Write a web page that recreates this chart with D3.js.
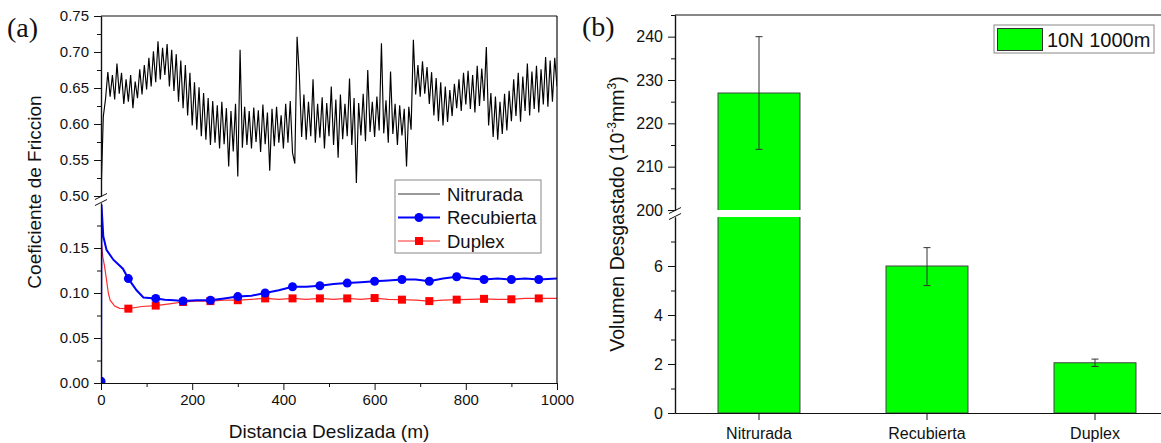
<!DOCTYPE html>
<html>
<head>
<meta charset="utf-8">
<script src="https://cdn.jsdelivr.net/npm/d3@7"></script>
<style>
body{margin:0;background:#fff}
text{font-family:Arial,"Liberation Sans",sans-serif}
text.serif{font-family:"Liberation Serif","Times New Roman",serif}
</style>
</head>
<body>
<div id="chart"></div>
<script>

// -----------------------------
// DATA
// -----------------------------

// (a) Nitrurada, one value every 5 m (0 .. 1000 m)
const nitStep = 5
const nitCoef = [
0.50,0.61,0.635,0.672,0.638,0.668,0.634,0.684,0.642,0.671,
0.628,0.662,0.631,0.668,0.622,0.659,0.636,0.676,0.641,0.682,
0.648,0.692,0.652,0.701,0.658,0.715,0.662,0.706,0.668,0.711,
0.652,0.703,0.646,0.697,0.631,0.688,0.622,0.682,0.612,0.671,
0.598,0.658,0.592,0.651,0.583,0.643,0.578,0.636,0.571,0.632,
0.574,0.626,0.566,0.631,0.572,0.622,0.541,0.618,0.562,0.628,
0.527,0.703,0.567,0.624,0.571,0.618,0.566,0.623,0.575,0.619,
0.561,0.627,0.572,0.616,0.535,0.621,0.569,0.624,0.574,0.612,
0.566,0.628,0.574,0.632,0.560,0.545,0.721,0.667,0.582,0.641,
0.578,0.631,0.583,0.662,0.574,0.628,0.581,0.637,0.566,0.629,
0.583,0.652,0.571,0.634,0.553,0.641,0.579,0.628,0.583,0.663,
0.571,0.636,0.518,0.629,0.584,0.642,0.576,0.675,0.589,0.631,
0.582,0.638,0.591,0.712,0.587,0.633,0.574,0.673,0.586,0.628,
0.571,0.626,0.584,0.621,0.541,0.624,0.592,0.717,0.641,0.682,
0.638,0.687,0.642,0.679,0.628,0.672,0.612,0.664,0.604,0.658,
0.598,0.652,0.603,0.647,0.611,0.656,0.622,0.662,0.618,0.671,
0.627,0.674,0.621,0.668,0.616,0.681,0.625,0.677,0.632,0.707,
0.598,0.643,0.582,0.638,0.578,0.631,0.586,0.642,0.591,0.646,
0.604,0.662,0.611,0.671,0.603,0.666,0.618,0.684,0.612,0.673,
0.621,0.681,0.616,0.676,0.627,0.693,0.624,0.688,0.631,0.692,
0.652
]

// (a) Recubierta
const recDist = [0,1,5,12,27,48,60,78,93,120,140,160,180,210,240,270,300,330,360,390,420,450,480,510,540,570,600,630,660,690,720,750,780,810,840,870,900,930,960,1000]
const recCoef = [0.002,0.198,0.163,0.148,0.137,0.127,0.116,0.103,0.095,0.094,0.0925,0.092,0.091,0.092,0.092,0.094,0.096,0.097,0.100,0.103,0.107,0.107,0.108,0.110,0.111,0.112,0.113,0.114,0.115,0.115,0.113,0.116,0.118,0.116,0.115,0.116,0.115,0.116,0.115,0.116]

// (a) Duplex
const dupDist = [0,4,8,12,16,20,30,41,60,90,120,150,180,210,240,270,300,330,360,390,420,450,480,510,540,570,600,630,660,690,720,750,780,810,840,870,900,930,960,1000]
const dupCoef = [0.159,0.140,0.129,0.115,0.100,0.092,0.0855,0.083,0.0826,0.085,0.086,0.088,0.090,0.091,0.091,0.092,0.092,0.093,0.094,0.093,0.094,0.093,0.094,0.093,0.094,0.093,0.0944,0.093,0.0926,0.092,0.091,0.092,0.0926,0.093,0.0935,0.093,0.093,0.094,0.094,0.094]

const markerStep = 60

const xTicksA = [0,200,400,600,800,1000]
const yTicksTopA = [0.50,0.55,0.60,0.65,0.70,0.75]
const yTicksBotA = [0.00,0.05,0.10,0.15]

// (b) wear volume
const cats = ["Nitrurada","Recubierta","Duplex"]
const wear = [227,6.0,2.05]
const wearLo = [214,5.2,1.9]
const wearHi = [240,6.75,2.2]

const yTicksTopB = [200,210,220,230,240]
const yTicksBotB = [0,2,4,6]


// -----------------------------
// SVG
// -----------------------------

const width = 1161
const height = 443

const svg = d3.select("#chart")
.append("svg")
.attr("width",width)
.attr("height",height)

function styleAxis(g,size){
g.attr("font-size",size)
g.selectAll("path").attr("stroke","#111").attr("stroke-width",1.2)
g.selectAll("line").attr("stroke","#111").attr("stroke-width",1)
g.selectAll("text").attr("fill","#111")
}

function breakMark(x,yc){
[-3,3].forEach(d=>{
svg.append("line")
.attr("x1",x-6).attr("y1",yc+d+3)
.attr("x2",x+6).attr("y2",yc+d-3)
.attr("stroke","#111")
.attr("stroke-width",1)
})
}


// -----------------------------
// PANEL (a)
// -----------------------------

const xA = d3.scaleLinear().domain([0,1000]).range([101,557])
const yTopA = d3.scaleLinear().domain([0.5,0.75]).range([196,16])
const yBotA = d3.scaleLinear().domain([0,0.2]).range([383,203])

const defs = svg.append("defs")
defs.append("clipPath").attr("id","clipTopA")
.append("rect").attr("x",101).attr("y",16).attr("width",456).attr("height",180)
defs.append("clipPath").attr("id","clipBotA")
.append("rect").attr("x",101).attr("y",203).attr("width",456).attr("height",180)

// NITRURADA

const nitData = nitCoef.map((v,i)=>({x:i*nitStep,y:v}))

svg.append("g").attr("clip-path","url(#clipTopA)")
.append("path")
.datum(nitData)
.attr("fill","none")
.attr("stroke","#000")
.attr("stroke-width",1.15)
.attr("d",d3.line().x(d=>xA(d.x)).y(d=>yTopA(d.y)))

const botA = svg.append("g").attr("clip-path","url(#clipBotA)")

// DUPLEX

const dupData = dupDist.map((d,i)=>({x:d,y:dupCoef[i]}))

botA.append("path")
.datum(dupData)
.attr("fill","none")
.attr("stroke","#ff2a2a")
.attr("stroke-width",1.2)
.attr("d",d3.line().x(d=>xA(d.x)).y(d=>yBotA(d.y)))

botA.selectAll("rect.dup")
.data(dupData.filter(d=>d.x>0 && d.x%markerStep===0 && d.x<1000))
.enter()
.append("rect")
.attr("class","dup")
.attr("x",d=>xA(d.x)-4)
.attr("y",d=>yBotA(d.y)-4)
.attr("width",8)
.attr("height",8)
.attr("fill","#ff0000")

// RECUBIERTA

const recData = recDist.map((d,i)=>({x:d,y:recCoef[i]}))

botA.append("path")
.datum(recData)
.attr("fill","none")
.attr("stroke","#0000ff")
.attr("stroke-width",2)
.attr("d",d3.line().x(d=>xA(d.x)).y(d=>yBotA(d.y)))

botA.selectAll("circle.rec")
.data(recData.filter(d=>d.x%markerStep===0 && d.x<1000))
.enter()
.append("circle")
.attr("class","rec")
.attr("cx",d=>xA(d.x))
.attr("cy",d=>yBotA(d.y))
.attr("r",4.5)
.attr("fill","#0000ff")

// AXES

svg.append("g")
.attr("transform","translate(0,383)")
.call(d3.axisBottom(xA).tickValues([100,300,500,700,900]).tickSize(4).tickSizeOuter(0).tickFormat(""))
.call(g=>styleAxis(g,15))

svg.append("g")
.attr("transform","translate(0,383)")
.call(d3.axisBottom(xA).tickValues(xTicksA).tickSize(7).tickSizeOuter(0).tickPadding(4).tickFormat(d3.format("d")))
.call(g=>styleAxis(g,15))

svg.append("g")
.attr("transform","translate(101,0)")
.call(d3.axisLeft(yTopA).tickValues([0.525,0.575,0.625,0.675,0.725]).tickSize(4).tickSizeOuter(0).tickFormat(""))
.call(g=>styleAxis(g,15))

svg.append("g")
.attr("transform","translate(101,0)")
.call(d3.axisLeft(yTopA).tickValues(yTicksTopA).tickSize(7).tickSizeOuter(0).tickPadding(5).tickFormat(d3.format(".2f")))
.call(g=>styleAxis(g,15))

svg.append("g")
.attr("transform","translate(101,0)")
.call(d3.axisLeft(yBotA).tickValues([0.025,0.075,0.125,0.175]).tickSize(4).tickSizeOuter(0).tickFormat(""))
.call(g=>styleAxis(g,15))

svg.append("g")
.attr("transform","translate(101,0)")
.call(d3.axisLeft(yBotA).tickValues(yTicksBotA).tickSize(7).tickSizeOuter(0).tickPadding(5).tickFormat(d3.format(".2f")))
.call(g=>styleAxis(g,15))

// FRAME

svg.append("line").attr("x1",101).attr("x2",557).attr("y1",16).attr("y2",16)
.attr("stroke","#111").attr("stroke-width",1.2)
svg.append("line").attr("x1",557).attr("x2",557).attr("y1",16).attr("y2",383)
.attr("stroke","#111").attr("stroke-width",1.2)

breakMark(101,199.5)

// TITLES

svg.append("text")
.attr("x",329).attr("y",438)
.attr("text-anchor","middle")
.attr("font-size",19)
.attr("fill","#111")
.text("Distancia Deslizada (m)")

svg.append("text")
.attr("transform","translate(41,192) rotate(-90)")
.attr("text-anchor","middle")
.attr("font-size",19)
.attr("fill","#111")
.text("Coeficiente de Friccion")

svg.append("text")
.attr("class","serif")
.attr("x",7).attr("y",37)
.attr("font-size",28)
.attr("fill","#111")
.text("(a)")

// LEGEND

const legA = svg.append("g")

legA.append("rect")
.attr("x",395).attr("y",180).attr("width",146).attr("height",73)
.attr("fill","#fff").attr("stroke","#888").attr("stroke-width",1)

const legItems = [
{name:"Nitrurada",color:"#000",w:0.8,mark:null},
{name:"Recubierta",color:"#0000ff",w:2,mark:"circle"},
{name:"Duplex",color:"#ff2a2a",w:1.2,mark:"square"}
]

legItems.forEach((d,i)=>{
const yy = 194+i*23.5
legA.append("line")
.attr("x1",398).attr("x2",440).attr("y1",yy).attr("y2",yy)
.attr("stroke",d.color).attr("stroke-width",d.w)
if(d.mark==="circle"){
legA.append("circle").attr("cx",419).attr("cy",yy).attr("r",4.5).attr("fill","#0000ff")
}
if(d.mark==="square"){
legA.append("rect").attr("x",415).attr("y",yy-4).attr("width",8).attr("height",8).attr("fill","#ff0000")
}
legA.append("text")
.attr("x",447).attr("y",yy+6.5)
.attr("font-size",18.5)
.attr("fill","#111")
.text(d.name)
})


// -----------------------------
// PANEL (b)
// -----------------------------

const xB = d3.scaleBand()
.domain(cats)
.range([675,1179])
.paddingInner(0.512)
.paddingOuter(0.256)

const yTopB = d3.scaleLinear().domain([200,245]).range([210,15])
const yBotB = d3.scaleLinear().domain([0,8]).range([413,217])
const yB = v=> v>=200 ? yTopB(v) : yBotB(v)

defs.append("clipPath").attr("id","clipTopB")
.append("rect").attr("x",675).attr("y",15).attr("width",504).attr("height",195)
defs.append("clipPath").attr("id","clipBotB")
.append("rect").attr("x",675).attr("y",217).attr("width",504).attr("height",196)

const barData = cats.map((c,i)=>({cat:c,v:wear[i],lo:wearLo[i],hi:wearHi[i]}))

// BARS

svg.append("g").attr("clip-path","url(#clipTopB)")
.selectAll("rect")
.data(barData.filter(d=>d.v>200))
.enter()
.append("rect")
.attr("x",d=>xB(d.cat))
.attr("y",d=>yTopB(d.v))
.attr("width",xB.bandwidth())
.attr("height",d=>yTopB(0)-yTopB(d.v))
.attr("fill","#00ff00")
.attr("stroke","#444")
.attr("stroke-width",1)

svg.append("g").attr("clip-path","url(#clipBotB)")
.selectAll("rect")
.data(barData)
.enter()
.append("rect")
.attr("x",d=>xB(d.cat))
.attr("y",d=>yBotB(d.v))
.attr("width",xB.bandwidth())
.attr("height",d=>yBotB(0)-yBotB(d.v))
.attr("fill","#00ff00")
.attr("stroke","#444")
.attr("stroke-width",1)

// ERROR BARS

const err = svg.append("g")
.attr("stroke","#333")
.attr("stroke-width",1)

barData.forEach(d=>{
const cx = xB(d.cat)+xB.bandwidth()/2
err.append("line").attr("x1",cx).attr("x2",cx).attr("y1",yB(d.lo)).attr("y2",yB(d.hi))
err.append("line").attr("x1",cx-3.5).attr("x2",cx+3.5).attr("y1",yB(d.lo)).attr("y2",yB(d.lo))
err.append("line").attr("x1",cx-3.5).attr("x2",cx+3.5).attr("y1",yB(d.hi)).attr("y2",yB(d.hi))
})

// AXES

svg.append("g")
.attr("transform","translate(0,413)")
.call(d3.axisBottom(xB).tickSize(7).tickSizeOuter(0).tickPadding(8))
.call(g=>styleAxis(g,16))

svg.append("g")
.attr("transform","translate(675,0)")
.call(d3.axisLeft(yTopB).tickValues([205,215,225,235,245]).tickSize(4).tickSizeOuter(0).tickFormat(""))
.call(g=>styleAxis(g,16))

svg.append("g")
.attr("transform","translate(675,0)")
.call(d3.axisLeft(yTopB).tickValues(yTicksTopB).tickSize(7).tickSizeOuter(0).tickPadding(5))
.call(g=>styleAxis(g,16))

svg.append("g")
.attr("transform","translate(675,0)")
.call(d3.axisLeft(yBotB).tickValues([1,3,5,7]).tickSize(4).tickSizeOuter(0).tickFormat(""))
.call(g=>styleAxis(g,16))

svg.append("g")
.attr("transform","translate(675,0)")
.call(d3.axisLeft(yBotB).tickValues(yTicksBotB).tickSize(7).tickSizeOuter(0).tickPadding(5))
.call(g=>styleAxis(g,16))

svg.append("line").attr("x1",675).attr("x2",1179).attr("y1",15).attr("y2",15)
.attr("stroke","#111").attr("stroke-width",1.2)

breakMark(675,213.5)

// TITLES

const yt = svg.append("text")
.attr("transform","translate(624,214) rotate(-90)")
.attr("text-anchor","middle")
.attr("font-size",19.5)
.attr("fill","#111")

yt.append("tspan").text("Volumen Desgastado (10")
yt.append("tspan").attr("font-size",12).attr("dy",-8).text("-3")
yt.append("tspan").attr("dy",8).text("mm")
yt.append("tspan").attr("font-size",12).attr("dy",-8).text("3")
yt.append("tspan").attr("dy",8).text(")")

svg.append("text")
.attr("class","serif")
.attr("x",582).attr("y",36)
.attr("font-size",28)
.attr("fill","#111")
.text("(b)")

// LEGEND

svg.append("rect")
.attr("x",994).attr("y",25).attr("width",160).attr("height",28)
.attr("fill","#fff").attr("stroke","#888").attr("stroke-width",1)

svg.append("rect")
.attr("x",997.5).attr("y",28.5).attr("width",45).attr("height",22)
.attr("fill","#00ff00").attr("stroke","#333").attr("stroke-width",1)

svg.append("text")
.attr("x",1047).attr("y",46.5)
.attr("font-size",20)
.attr("fill","#111")
.text("10N 1000m")

</script>
</body>
</html>
